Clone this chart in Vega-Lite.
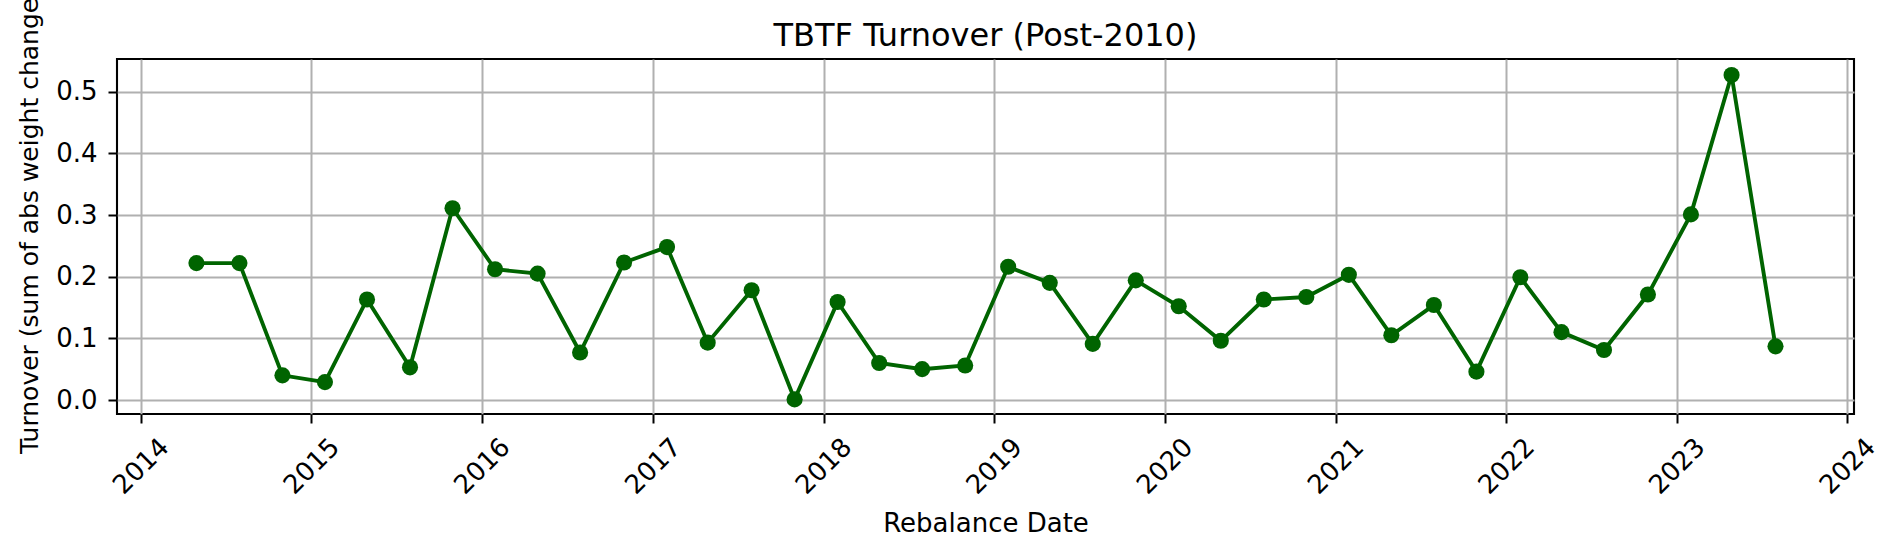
{
  "$schema": "https://vega.github.io/schema/vega-lite/v6.json",
  "autosize": {"type": "none"},
  "padding": {"left": 117, "top": 59, "right": 45, "bottom": 142},
  "width": 1737,
  "height": 355,
  "background": "white",
  "title": {"text": "TBTF Turnover (Post-2010)", "fontSize": 32, "font": "DejaVu Sans", "fontWeight": "normal", "color": "black", "anchor": "middle", "offset": -78},
  "config": {
    "view": {"stroke": "black", "strokeWidth": 2.1},
    "axis": {
      "domain": false,
      "grid": true,
      "gridColor": "#b0b0b0",
      "gridWidth": 2,
      "tickColor": "black",
      "tickWidth": 2,
      "tickSize": 9,
      "labelFont": "DejaVu Sans",
      "labelFontSize": 26,
      "labelColor": "black",
      "titleFont": "DejaVu Sans",
      "titleFontSize": 26,
      "titleFontWeight": "normal",
      "titleColor": "black"
    }
  },
  "data": {"values": [
    {"date": "2014-04-30", "turnover": 0.222},
    {"date": "2014-07-31", "turnover": 0.222},
    {"date": "2014-10-31", "turnover": 0.040},
    {"date": "2015-01-30", "turnover": 0.029},
    {"date": "2015-04-30", "turnover": 0.163},
    {"date": "2015-07-31", "turnover": 0.053},
    {"date": "2015-10-30", "turnover": 0.311},
    {"date": "2016-01-29", "turnover": 0.212},
    {"date": "2016-04-29", "turnover": 0.205},
    {"date": "2016-07-29", "turnover": 0.077},
    {"date": "2016-10-31", "turnover": 0.223},
    {"date": "2017-01-31", "turnover": 0.248},
    {"date": "2017-04-28", "turnover": 0.093},
    {"date": "2017-07-31", "turnover": 0.178},
    {"date": "2017-10-31", "turnover": 0.001},
    {"date": "2018-01-31", "turnover": 0.159},
    {"date": "2018-04-30", "turnover": 0.060},
    {"date": "2018-07-31", "turnover": 0.050},
    {"date": "2018-10-31", "turnover": 0.056},
    {"date": "2019-01-31", "turnover": 0.216},
    {"date": "2019-04-30", "turnover": 0.190},
    {"date": "2019-07-31", "turnover": 0.091},
    {"date": "2019-10-31", "turnover": 0.194},
    {"date": "2020-01-31", "turnover": 0.152},
    {"date": "2020-04-30", "turnover": 0.096},
    {"date": "2020-07-31", "turnover": 0.163},
    {"date": "2020-10-30", "turnover": 0.167},
    {"date": "2021-01-29", "turnover": 0.203},
    {"date": "2021-04-30", "turnover": 0.105},
    {"date": "2021-07-30", "turnover": 0.154},
    {"date": "2021-10-29", "turnover": 0.046},
    {"date": "2022-01-31", "turnover": 0.199},
    {"date": "2022-04-29", "turnover": 0.110},
    {"date": "2022-07-29", "turnover": 0.081},
    {"date": "2022-10-31", "turnover": 0.171},
    {"date": "2023-01-31", "turnover": 0.301},
    {"date": "2023-04-28", "turnover": 0.527},
    {"date": "2023-07-31", "turnover": 0.087}
  ]},
  "mark": {"type": "line", "color": "#006400", "strokeWidth": 3.9, "point": {"filled": true, "size": 260, "color": "#006400", "opacity": 1}},
  "encoding": {
    "x": {
      "field": "date", "type": "temporal",
      "scale": {"type": "utc", "domain": [{"year": 2013, "month": 11, "date": 11, "utc": true}, {"year": 2024, "month": 1, "date": 15, "utc": true}], "nice": false},
      "axis": {"title": "Rebalance Date", "format": "%Y", "formatType": "utc", "tickCount": "year", "labelAngle": -45, "labelAlign": "center", "labelBaseline": "middle", "labelPadding": 43, "labelOverlap": false, "titleY": 117, "titleBaseline": "alphabetic", "titleAnchor": "middle"}
    },
    "y": {
      "field": "turnover", "type": "quantitative",
      "scale": {"domain": [-0.0227, 0.553], "nice": false, "zero": false},
      "axis": {"title": "Turnover (sum of abs weight changes)", "values": [0, 0.1, 0.2, 0.3, 0.4, 0.5], "format": ".1f", "labelPadding": 11, "titleX": -80, "titleY": 155, "titleFontSize": 25, "titleBaseline": "alphabetic", "titleAlign": "center", "titleAngle": -90}
    }
  }
}
